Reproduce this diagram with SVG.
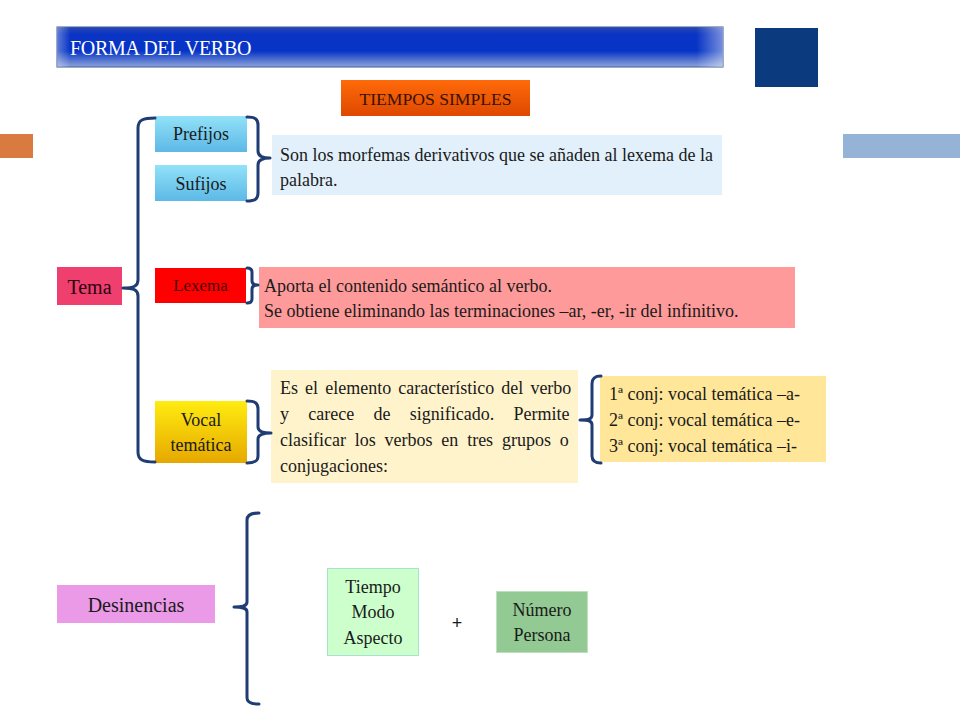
<svg xmlns="http://www.w3.org/2000/svg" width="960" height="720" viewBox="0 0 960 720">
<style>
text{font-family:"Liberation Serif","Times New Roman",serif;fill:#1a1a1a}
.t18{font-size:18px}
.mid{text-anchor:middle}
.br{fill:none;stroke:#1f3c74;stroke-width:3;stroke-linecap:round;stroke-linejoin:round}
</style>
<defs>
<linearGradient id="gTitle" x1="0" y1="0" x2="0" y2="1">
<stop offset="0" stop-color="#2a48b4"/>
<stop offset="0.18" stop-color="#0a34c4"/>
<stop offset="0.6" stop-color="#0634c6"/>
<stop offset="1" stop-color="#8ea4d8"/>
</linearGradient>
<linearGradient id="gTitleH" x1="0" y1="0" x2="1" y2="0">
<stop offset="0" stop-color="#ffffff" stop-opacity="0.35"/>
<stop offset="0.02" stop-color="#ffffff" stop-opacity="0"/>
<stop offset="0.96" stop-color="#ffffff" stop-opacity="0"/>
<stop offset="1" stop-color="#ffffff" stop-opacity="0.45"/>
</linearGradient>
<linearGradient id="gOrange" x1="0" y1="0" x2="0" y2="1">
<stop offset="0" stop-color="#ff6a0a"/>
<stop offset="1" stop-color="#de4800"/>
</linearGradient>
<linearGradient id="gCyan" x1="0" y1="0" x2="0" y2="1">
<stop offset="0" stop-color="#92e2f8"/>
<stop offset="1" stop-color="#5cb8e6"/>
</linearGradient>
<linearGradient id="gYellow" x1="0" y1="0" x2="0" y2="1">
<stop offset="0" stop-color="#ffec10"/>
<stop offset="1" stop-color="#e6a800"/>
</linearGradient>
</defs>

<rect width="960" height="720" fill="#ffffff"/>

<g id="decor">
<rect x="755" y="28" width="63" height="59" fill="#0b3a7e"/>
<rect x="0" y="134" width="33" height="24" fill="#d97a40"/>
<rect x="843" y="134" width="117" height="24" fill="#95b3d7"/>
</g>

<g id="title">
<rect x="57" y="27" width="666" height="40" fill="url(#gTitle)" stroke="#3c5a9c" stroke-width="1"/>
<rect x="57" y="27" width="666" height="40" fill="url(#gTitleH)"/>
<text x="70" y="55" style="font-size:20px;fill:#ffffff;letter-spacing:-0.3px">FORMA DEL VERBO</text>
</g>

<g id="tiempos-simples">
<rect x="341" y="80" width="189" height="36" fill="url(#gOrange)"/>
<text x="435.5" y="105" class="mid" style="font-size:17.6px;fill:#3a1200">TIEMPOS SIMPLES</text>
</g>

<g id="prefijos">
<rect x="155" y="116" width="92" height="36" fill="url(#gCyan)"/>
<text x="201" y="140" class="t18 mid">Prefijos</text>
</g>
<g id="sufijos">
<rect x="155" y="165" width="92" height="36" fill="url(#gCyan)"/>
<text x="201" y="190" class="t18 mid">Sufijos</text>
</g>
<g id="morfemas-texto">
<rect x="272" y="135" width="450" height="60" fill="#e1f0fa"/>
<text x="280" y="161" class="t18" textLength="433" lengthAdjust="spacing">Son los morfemas derivativos que se añaden al lexema de la</text>
<text x="280" y="186" class="t18">palabra.</text>
</g>

<g id="tema">
<rect x="57" y="267" width="65" height="38" fill="#ef3f6e"/>
<text x="89.5" y="294" class="mid" style="font-size:20px;fill:#2a0010">Tema</text>
</g>

<g id="lexema">
<rect x="155" y="268" width="91" height="35" fill="#ff0000"/>
<text x="200.5" y="291" class="mid" style="font-size:17px;fill:#4a0000">Lexema</text>
</g>
<g id="lexema-texto">
<rect x="259" y="267" width="536" height="61" fill="#ff9a9a"/>
<text x="264" y="292" class="t18">Aporta el contenido semántico al verbo.</text>
<text x="264" y="317" class="t18">Se obtiene eliminando las terminaciones –ar, -er, -ir del infinitivo.</text>
</g>

<g id="vocal-tematica">
<rect x="155" y="401" width="92" height="62" fill="url(#gYellow)"/>
<text x="201" y="426" class="t18 mid">Vocal</text>
<text x="201" y="451" class="t18 mid">temática</text>
</g>
<g id="vocal-texto">
<rect x="271" y="370" width="307" height="113" fill="#fff3cc"/>
<text x="280" y="394" class="t18" style="word-spacing:2.6px">Es el elemento característico del verbo</text>
<text x="280" y="420" class="t18" style="word-spacing:14.8px">y carece de significado. Permite</text>
<text x="280" y="446" class="t18" style="word-spacing:4.3px">clasificar los verbos en tres grupos o</text>
<text x="280" y="472" class="t18">conjugaciones:</text>
</g>
<g id="conjugaciones">
<rect x="600" y="376" width="226" height="86" fill="#ffe699"/>
<text x="609" y="400" class="t18">1ª conj: vocal temática –a-</text>
<text x="609" y="426" class="t18">2ª conj: vocal temática –e-</text>
<text x="609" y="452" class="t18">3ª conj: vocal temática –i-</text>
</g>

<g id="desinencias">
<rect x="57" y="585" width="158" height="38" fill="#eb9ae8"/>
<text x="136" y="612" class="mid" style="font-size:20px">Desinencias</text>
</g>
<g id="tiempo-modo-aspecto">
<rect x="327.5" y="568.5" width="91" height="87" fill="#ccffcc" stroke="#a6e3cf" stroke-width="1"/>
<text x="373" y="593" class="t18 mid">Tiempo</text>
<text x="373" y="618" class="t18 mid">Modo</text>
<text x="373" y="644" class="t18 mid">Aspecto</text>
</g>
<g id="mas">
<text x="457" y="629" class="mid" style="font-family:'Liberation Sans',Arial,sans-serif;font-size:18px">+</text>
</g>
<g id="numero-persona">
<rect x="496.5" y="591.5" width="91" height="61" fill="#93c993" stroke="#bfe0bf" stroke-width="1"/>
<text x="542" y="616" class="t18 mid">Número</text>
<text x="542" y="641" class="t18 mid">Persona</text>
</g>

<g id="connectors">
<path class="br" d="M155,118 C143,118 138,120 138,128 L138,280 C138,286 134,288 123,288 C134,288 138,290 138,296 L138,452 C138,460 143,462 155,462"/>
<path class="br" d="M247,117 C255,117 258,119 258,125 L258,151 C258,156 262,158 270,158 C262,158 258,160 258,165 L258,193 C258,199 255,201 247,201"/>
<path class="br" d="M247,268 C250,268 252,269 252,272 L252,281 C252,284 254,285 258,285 C254,285 252,286 252,289 L252,299 C252,302 250,303 247,303"/>
<path class="br" d="M247,401 C255,401 258,403 258,409 L258,427 C258,431 262,433 271,433 C262,433 258,435 258,439 L258,456 C258,461 255,463 247,463"/>
<path class="br" d="M601,376 C595,376 592,378 592,384 L592,415 C592,419 589,420 580,420 C589,420 592,421 592,425 L592,456 C592,461 595,463 601,463"/>
<path class="br" d="M259,513 C251,513 247,515 247,520 L247,602 C247,606 243,607 234,607 C243,607 247,608 247,612 L247,698 C247,702 251,704 259,704"/>
</g>
</svg>
